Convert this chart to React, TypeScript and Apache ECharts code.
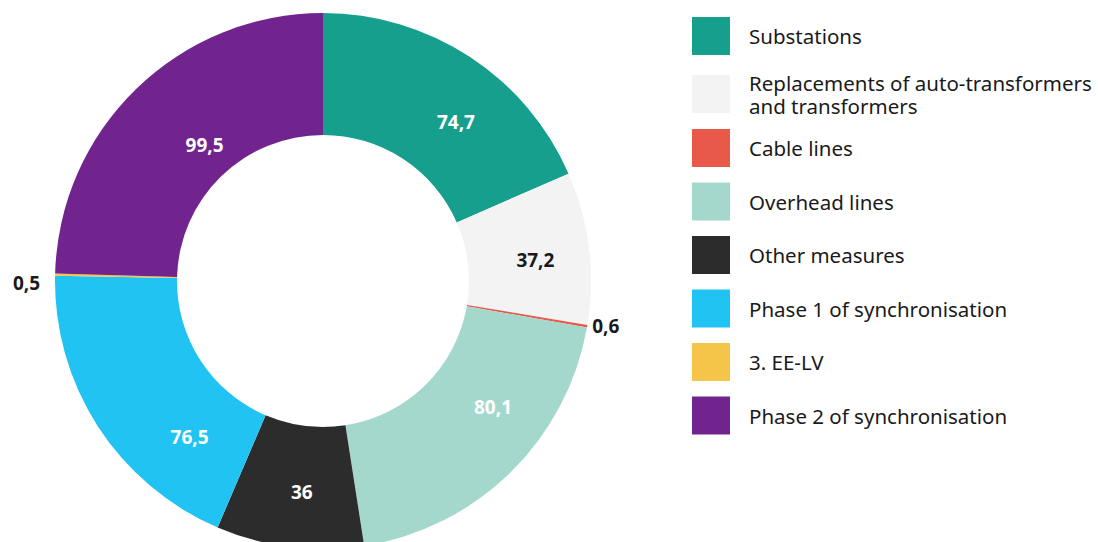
import React, { useEffect, useRef } from "react";
import * as echarts from "echarts";

const categories = [
  "Substations",
  "Replacements of auto-transformers and transformers",
  "Cable lines",
  "Overhead lines",
  "Other measures",
  "Phase 1 of synchronisation",
  "3. EE-LV",
  "Phase 2 of synchronisation",
];
const legendTexts = [
  "Substations",
  "Replacements of auto-transformers\nand transformers",
  "Cable lines",
  "Overhead lines",
  "Other measures",
  "Phase 1 of synchronisation",
  "3. EE-LV",
  "Phase 2 of synchronisation",
];
const values = [74.7, 37.2, 0.6, 80.1, 36, 76.5, 0.5, 99.5];
const colors = ["#179f8e", "#f3f3f3", "#e8594a", "#a5d8cc", "#2c2c2c", "#21c3f3", "#f5c54a", "#71248d"];
const labelKinds = ["light", "dark", "outside", "light", "light", "light", "outside", "light"];
// small label nudges (style only) to match the reference placement
const labelNudges = [
  [18, 17],
  [4, 5],
  [0, 0],
  [23, -24],
  [5, 3],
  [43, 42],
  [0, 8],
  [28, 15],
];

const FONT = "Noto Sans";
const TEXT = "#1a1a1a";

export default function App() {
  const ref = useRef<HTMLDivElement>(null);
  useEffect(() => {
    if (!ref.current) return;
    const chart = echarts.init(ref.current, null, { renderer: "svg" });
    const fmt = (v: number) => String(v).replace(".", ",");
    const data = categories.map((name, i) => {
      const kind = labelKinds[i];
      const label: any =
        kind === "outside"
          ? { position: "outside", color: TEXT }
          : { position: "inside", color: kind === "light" ? "#ffffff" : TEXT };
      return {
        name,
        value: values[i],
        itemStyle: { color: colors[i] },
        label,
        labelLine: { show: false, length: 0, length2: kind === "outside" && i === 6 ? 10 : 0 },
      };
    });
    const legendBase = {
      orient: "vertical",
      left: 692,
      padding: 0,
      icon: "rect",
      itemWidth: 38,
      itemHeight: 38,
      selectedMode: false,
      formatter: (n: string) => legendTexts[categories.indexOf(n)],
      textStyle: { fontFamily: FONT, fontSize: 20.5, color: TEXT, lineHeight: 23, padding: [0, 0, 0, 14] },
    };
    chart.setOption({
      animation: false,
      color: colors,
      legend: [
        { ...legendBase, top: 17, itemGap: 16, data: categories.slice(0, 2) },
        { ...legendBase, top: 129, itemGap: 15.5, data: categories.slice(2) },
      ],
      series: [
        {
          type: "pie",
          center: [323, 281],
          radius: [146, 268],
          startAngle: 90,
          clockwise: true,
          avoidLabelOverlap: false,
          label: {
            show: true,
            fontFamily: FONT,
            fontSize: 19,
            fontWeight: "bold",
            formatter: (p: any) => fmt(p.value),
          },
          labelLayout: (p: any) => ({ dx: labelNudges[p.dataIndex][0], dy: labelNudges[p.dataIndex][1] }),
          itemStyle: { borderWidth: 0 },
          data,
        },
      ],
    });
    return () => chart.dispose();
  }, []);
  return <div ref={ref} style={{ position: "absolute", left: 0, top: 0, width: 1098, height: 542 }} />;
}
